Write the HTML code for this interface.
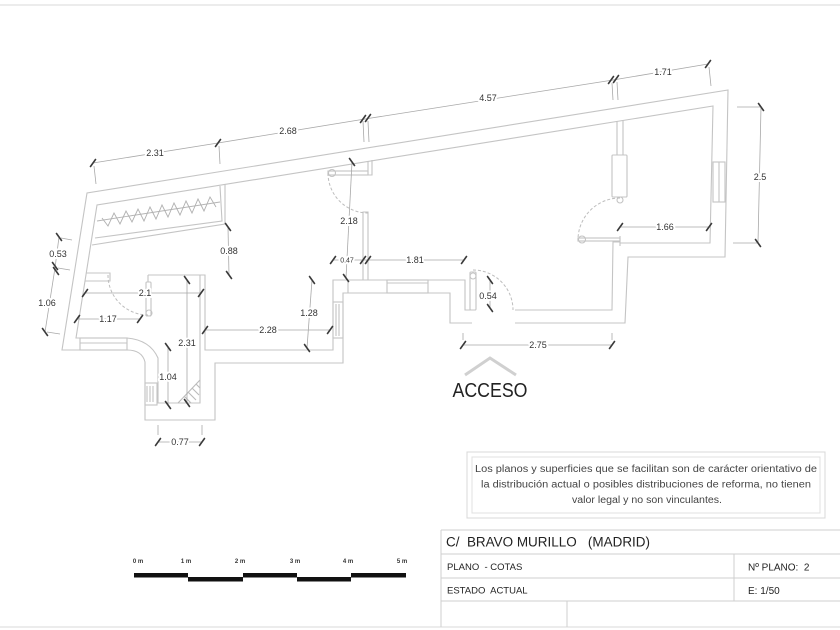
<!DOCTYPE html>
<html><head><meta charset="utf-8"><style>
html,body{margin:0;padding:0;background:#fff;}
svg{display:block;}
text{font-family:"Liberation Sans",sans-serif;}
.d{font-size:9px;fill:#333;text-anchor:middle;paint-order:stroke;stroke:#fff;stroke-width:4px;stroke-linejoin:round;}
</style></head><body>
<svg width="840" height="630" viewBox="0 0 840 630" xmlns="http://www.w3.org/2000/svg">
<rect width="840" height="630" fill="#fff"/>
<line x1="0" y1="5" x2="840" y2="5" stroke="#ececec" stroke-width="2"/>
<line x1="0" y1="627" x2="840" y2="627" stroke="#e6e6e6" stroke-width="1.5"/>

<!-- WALLS -->
<g fill="none" stroke="#c4c4c4" stroke-width="1.1">
<path d="M515,323 L625,323 L628,257 L725,257 L728,90 L87,193 L62,350 L127,350 Q142,350 145,362 L145,420 L215,420 L215,363 L343,363 L343,293 L450,293 L450,323 L472,323"/>
<path d="M515,310 L612,310 L613,242 L620,242 M620,243 L710,243 L713,106 L97,205 L76,338 L127,338 Q150,340 158,358 L158,403 L200,403 L200,275"/>
<path d="M148,275 L205,275 L205,350 L333,350 L333,280 L465,280 L465,310 L473,310"/>
<path d="M148,275 L148,282 M348,280 L348,293"/>
<!-- storage -->
<path d="M220,186 L222,221 L95,238 M92,245 L225,224 L225,184"/>
<path d="M97,221 L220,202" stroke="#b5b5b5" stroke-width="0.9"/>
<polyline points="102,218 108,226 114,213 120,224 126,211 132,222 138,209 144,221 150,207 156,219 162,205 168,217 174,203 180,215 186,201 192,213 198,199 204,211 210,197 216,207" stroke="#b0b0b0" stroke-width="0.9"/>
<!-- stub lower-left -->
<path d="M86,273 L110,273 L110,281 L85,281"/>
<!-- lower-left window -->
<rect x="80" y="338" width="47" height="12"/>
<line x1="80" y1="343" x2="127" y2="343"/>
<!-- bath window -->
<rect x="145" y="383" width="12" height="22"/>
<path d="M147,386 L147,402 M150,386 L150,402 M153,386 L153,402"/>
<!-- shower corner -->
<path d="M200,380 L178,403 M196,384 L200,388 M192,388 L199,395 M188,392 L196,400 M184,396 L191,403" stroke="#bbb"/>
<!-- hatch window mid-left -->
<rect x="333" y="302" width="10" height="36"/>
<path d="M336,304 L336,336 M339,304 L339,336"/>
<!-- partition 2.18 -->
<path d="M368,161 L368,175 L372,175 L372,160"/>
<path d="M363,280 L363,212 L368,212 L368,280"/>
<!-- window mid wall -->
<rect x="387" y="280" width="41" height="13"/>
<line x1="387" y1="283" x2="428" y2="283"/>
<!-- right partition -->
<path d="M617,121 L617,155 M623,120 L623,155"/>
<rect x="612" y="155" width="15" height="42" rx="1"/>
<circle cx="620" cy="200" r="3"/>
<!-- right wall window -->
<rect x="713" y="162" width="12" height="40"/>
<line x1="719" y1="162" x2="719" y2="202"/>
<!-- door leaves -->
<rect x="328" y="171" width="40" height="4"/>
<circle cx="332" cy="173" r="3.5"/>
<rect x="146" y="282" width="5" height="34" rx="1"/>
<circle cx="149" cy="313" r="3"/>
<rect x="470" y="272" width="6" height="38" rx="1"/>
<circle cx="473" cy="276" r="3"/>
<rect x="578" y="238" width="42" height="3"/>
<circle cx="582" cy="239.5" r="3.5"/>
<line x1="620" y1="236" x2="620" y2="246"/>
</g>
<!-- door arcs -->
<g fill="none" stroke="#bdbdbd" stroke-width="1" stroke-dasharray="3,2">
<path d="M328,173 A40,40 0 0,0 368,213"/>
<path d="M108,275 A40,40 0 0,0 148,315"/>
<path d="M473,270 A40,40 0 0,1 513,310"/>
<path d="M620,198 A42,42 0 0,0 578,240"/>
</g>

<!-- DIMENSION LINES -->
<g fill="none" stroke="#a8a8a8" stroke-width="0.8">
<path d="M93,163 L218,143 L365,119 L613,80 L708,64"/>
<path d="M94,166 L96,184 M219,146 L220,164 M363,121 L364,142 M368,121 L369,142 M612,83 L613,100 M617,82 L618,100 M709,67 L711,86"/>
<path d="M761,107 L758,243 M737,107 L760,107 M733,243 L757,243"/>
<path d="M620,227 L709,227"/>
<path d="M352,162 L346,278"/>
<path d="M333,260 L464,260"/>
<path d="M490,280 L490,308"/>
<path d="M463,345 L612,345 M463,333 L463,340 M612,333 L612,340"/>
<path d="M228,227 L229,275"/>
<path d="M85,293 L201,293"/>
<path d="M77,319 L140,319"/>
<path d="M187,280 L187,403"/>
<path d="M168,347 L168,405"/>
<path d="M205,330 L330,330"/>
<path d="M312,280 L307,348"/>
<path d="M158,442 L202,442 M158,425 L158,435 M202,425 L202,435"/>
<path d="M59,237 L55,268 L45,332 M61,238 L72,240 M58,268 L70,270 M47,332 L60,334"/>
</g>
<!-- TICKS -->
<g stroke="#3a3a3a" stroke-width="1.6" stroke-linecap="round">
<path d="M90.5,166.5 L95.5,159.5 M215.5,146.5 L220.5,139.5 M360.5,122.5 L365.5,115.5 M365.5,121.5 L370.5,114.5 M608.5,83.5 L613.5,76.5 M613.5,82.5 L618.5,75.5 M705.5,67.5 L710.5,60.5"/>
<path d="M758.5,103.5 L763.5,110.5 M755.5,239.5 L760.5,246.5"/>
<path d="M617.5,230.5 L622.5,223.5 M706.5,230.5 L711.5,223.5"/>
<path d="M349.5,158.5 L354.5,165.5 M343.5,274.5 L348.5,281.5"/>
<path d="M330.5,263.5 L335.5,256.5 M360.5,263.5 L365.5,256.5 M365.5,263.5 L370.5,256.5 M461.5,263.5 L466.5,256.5"/>
<path d="M487.5,276.5 L492.5,283.5 M487.5,304.5 L492.5,311.5"/>
<path d="M460.5,348.5 L465.5,341.5 M609.5,348.5 L614.5,341.5"/>
<path d="M225.5,223.5 L230.5,230.5 M226.5,271.5 L231.5,278.5"/>
<path d="M82.5,296.5 L87.5,289.5 M198.5,296.5 L203.5,289.5"/>
<path d="M74.5,322.5 L79.5,315.5 M137.5,322.5 L142.5,315.5"/>
<path d="M184.5,276.5 L189.5,283.5 M184.5,399.5 L189.5,406.5"/>
<path d="M165.5,343.5 L170.5,350.5 M165.5,401.5 L170.5,408.5"/>
<path d="M202.5,333.5 L207.5,326.5 M327.5,333.5 L332.5,326.5"/>
<path d="M309.5,276.5 L314.5,283.5 M304.5,344.5 L309.5,351.5"/>
<path d="M155.5,445.5 L160.5,438.5 M199.5,445.5 L204.5,438.5"/>
<path d="M56.5,233.5 L61.5,240.5 M52.5,262.5 L57.5,269.5 M53.5,267.5 L58.5,274.5 M42.5,328.5 L47.5,335.5"/>
</g>
<!-- DIM LABELS -->
<g>
<text class="d" x="155" y="156">2.31</text>
<text class="d" x="288" y="134">2.68</text>
<text class="d" x="488" y="101">4.57</text>
<text class="d" x="663" y="75">1.71</text>
<text class="d" x="760" y="180">2.5</text>
<text class="d" x="665" y="230">1.66</text>
<text class="d" x="349" y="224">2.18</text>
<text class="d" x="347" y="262.5" style="font-size:7px">0.47</text>
<text class="d" x="415" y="263">1.81</text>
<text class="d" x="488" y="299">0.54</text>
<text class="d" x="538" y="348">2.75</text>
<text class="d" x="229" y="254">0.88</text>
<text class="d" x="145" y="296">2.1</text>
<text class="d" x="108" y="322">1.17</text>
<text class="d" x="187" y="346">2.31</text>
<text class="d" x="168" y="380">1.04</text>
<text class="d" x="268" y="333">2.28</text>
<text class="d" x="309" y="316">1.28</text>
<text class="d" x="180" y="445">0.77</text>
<text class="d" x="58" y="257">0.53</text>
<text class="d" x="47" y="306">1.06</text>
</g>

<!-- ACCESO -->
<polyline points="465,375 490,358 516,375" fill="none" stroke="#d0d0d0" stroke-width="3"/>
<text x="490" y="397" font-size="20" fill="#222" text-anchor="middle" textLength="75" lengthAdjust="spacingAndGlyphs">ACCESO</text>

<!-- DISCLAIMER -->
<rect x="467" y="452" width="358" height="66" fill="none" stroke="#d8d8d8" stroke-width="1"/>
<rect x="472" y="457" width="348" height="56" fill="none" stroke="#e0e0e0" stroke-width="1"/>
<g font-size="10" fill="#444" text-anchor="middle">
<text x="646" y="472" textLength="342" lengthAdjust="spacingAndGlyphs">Los planos y superficies que se facilitan son de carácter orientativo de</text>
<text x="646" y="487.5" textLength="330" lengthAdjust="spacingAndGlyphs">la distribución actual o posibles distribuciones de reforma, no tienen</text>
<text x="647" y="503" textLength="150" lengthAdjust="spacingAndGlyphs">valor legal y no son vinculantes.</text>
</g>

<!-- TITLE BLOCK -->
<g stroke="#cfcfcf" stroke-width="1" fill="none">
<path d="M441,530 L840,530 M441,530 L441,627 M441,554 L840,554 M441,578 L840,578 M441,601 L840,601 M734,554 L734,601 M567,601 L567,627"/>
</g>
<g fill="#222">
<text xml:space="preserve" x="446" y="546.5" font-size="13.5" textLength="204" lengthAdjust="spacingAndGlyphs">C/  BRAVO MURILLO   (MADRID)</text>
<text xml:space="preserve" x="447" y="570" font-size="9.5">PLANO  - COTAS</text>
<text xml:space="preserve" x="748" y="570.5" font-size="10">Nº PLANO:  2</text>
<text xml:space="preserve" x="447" y="593.5" font-size="9.5">ESTADO  ACTUAL</text>
<text x="748" y="594" font-size="10">E: 1/50</text>
</g>

<!-- SCALE BAR -->
<g font-size="6" font-weight="bold" fill="#333" text-anchor="middle">
<text x="138" y="563">0 m</text>
<text x="186" y="563">1 m</text>
<text x="240" y="563">2 m</text>
<text x="295" y="563">3 m</text>
<text x="348" y="563">4 m</text>
<text x="402" y="563">5 m</text>
</g>
<g fill="#111">
<rect x="134" y="573" width="54" height="4.5"/>
<rect x="188" y="577" width="55" height="4.5"/>
<rect x="243" y="573" width="54" height="4.5"/>
<rect x="297" y="577" width="54" height="4.5"/>
<rect x="351" y="573" width="55" height="4.5"/>
</g>
</svg>
</body></html>
